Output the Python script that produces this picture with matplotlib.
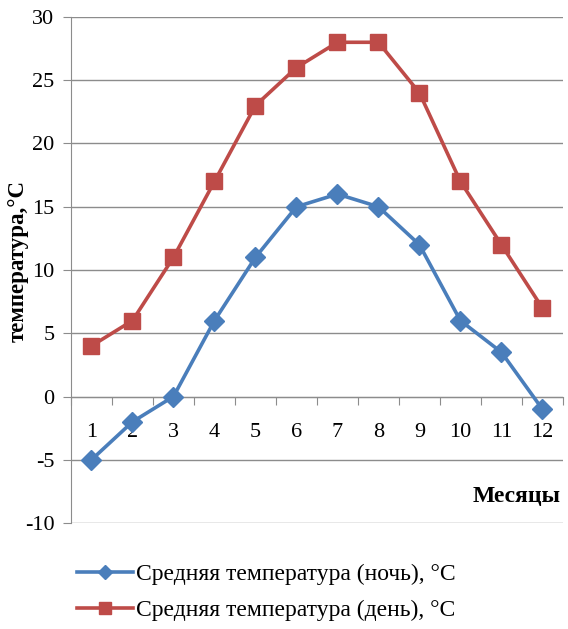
import numpy as np
import matplotlib.pyplot as plt
from matplotlib.lines import Line2D

plt.rcParams['font.family'] = ['Liberation Serif', 'DejaVu Serif']
plt.rcParams['axes.unicode_minus'] = False

months = list(range(1, 13))
night = [-5, -2, 0, 6, 11, 15, 16, 15, 12, 6, 3.5, -1]
day = [4, 6, 11, 17, 23, 26, 28, 28, 24, 17, 12, 7]
month_labels = [str(m) for m in months]

blue = '#4A7EBB'
red = '#BE4B48'
grid_c = '#8c8c8c'

fig = plt.figure(figsize=(5.68, 6.29), dpi=100)
ax = fig.add_axes([0.125, 0.1685, 0.866, 0.8045])

ax.set_xlim(0.5, 12.5)
ax.set_ylim(-10, 30)
ax.set_yticks(np.arange(-10, 31, 5))
ax.yaxis.grid(True, color=grid_c, lw=1)
ax.set_axisbelow(True)

for s in ['top', 'right']:
    ax.spines[s].set_visible(False)
ax.spines['left'].set_color(grid_c)
ax.spines['bottom'].set_position(('data', 0))
ax.spines['bottom'].set_color(grid_c)

# category boundaries as ticks on the zero line, labels between them
ax.set_xticks(np.arange(0.5, 12.6, 1))
ax.set_xticklabels([])
ax.set_xticks(months, minor=True)
ax.set_xticklabels(month_labels, minor=True)
ax.tick_params(axis='x', which='major', direction='out', length=6, color=grid_c)
ax.tick_params(axis='x', which='minor', length=0, pad=19, labelsize=16)
ax.tick_params(axis='y', length=6, color=grid_c, labelsize=16, pad=6)

ax.plot(months, night, color=blue, lw=2.6, marker='D', ms=10, zorder=3,
        label='Средняя температура (ночь), °С')
ax.plot(months, day, color=red, lw=2.6, marker='s', ms=11, zorder=3,
        label='Средняя температура (день), °С')

fig.text(0.032, 0.585, 'температура,°С', rotation=90, ha='center', va='center',
         fontsize=16.5, fontweight='bold')
fig.text(0.91, 0.21, 'Месяцы', ha='center', va='center', fontsize=17,
         fontweight='bold')

handles = [Line2D([], [], color=blue, lw=2.6, marker='D', ms=7),
           Line2D([], [], color=red, lw=2.6, marker='s', ms=9)]
fig.legend(handles, ['Средняя температура (ночь), °С', 'Средняя температура (день), °С'],
           loc='upper left', bbox_to_anchor=(0.135, 0.104), frameon=False,
           fontsize=17, handlelength=2.4, handletextpad=0.1, labelspacing=0.6,
           borderaxespad=0, borderpad=0)

fig.savefig('out.png', dpi=100)
